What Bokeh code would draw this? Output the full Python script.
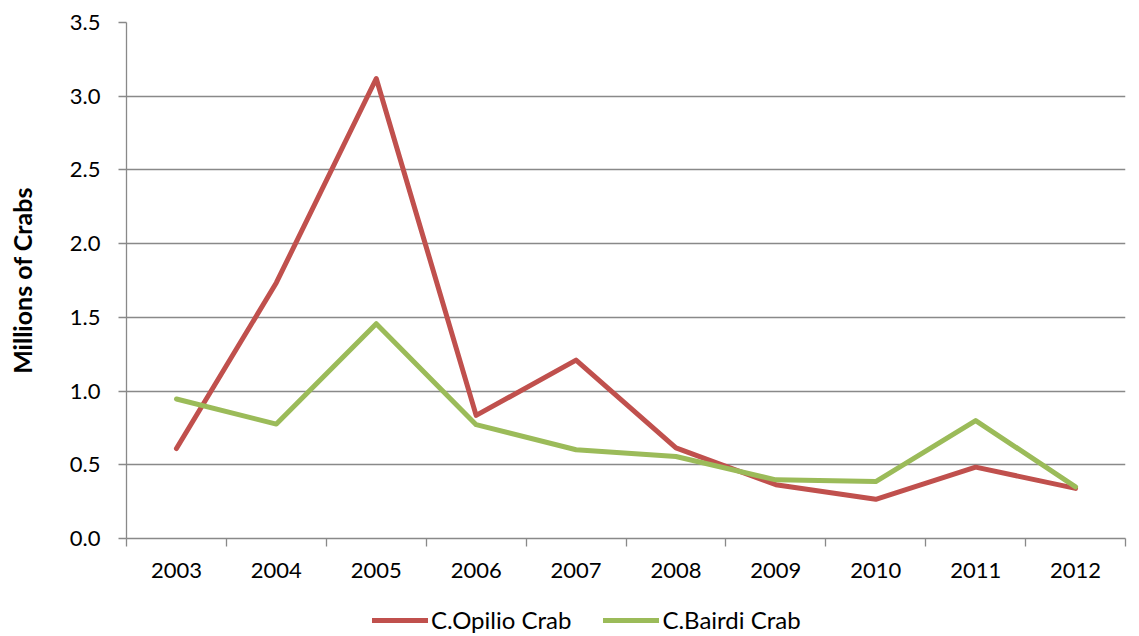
from bokeh.plotting import figure
from bokeh.layouts import column
from bokeh.models import FixedTicker, Legend, LegendItem, Range1d
from bokeh.embed import file_html
from bokeh.resources import INLINE

years = ["2003", "2004", "2005", "2006", "2007", "2008", "2009", "2010", "2011", "2012"]
opilio = [0.61, 1.735, 3.12, 0.835, 1.21, 0.615, 0.365, 0.266, 0.484, 0.34]
bairdi = [0.946, 0.776, 1.457, 0.772, 0.602, 0.556, 0.398, 0.386, 0.80, 0.35]
y_ticks = [0.0, 0.5, 1.0, 1.5, 2.0, 2.5, 3.0, 3.5]
series_names = ["C.Opilio Crab", "C.Bairdi Crab"]

FONT = "Lato"
GRID = "#898989"
RED = "#C0504D"
GREEN = "#9BBB59"

xs = [i + 0.5 for i in range(len(years))]

p = figure(frame_width=999, frame_height=516, output_backend="svg", toolbar_location=None,
           x_range=Range1d(0, len(years)), y_range=Range1d(0, 3.5),
           min_border_left=126, min_border_right=14, min_border_top=22, min_border_bottom=58)
p.outline_line_color = None
p.background_fill_color = "white"

r1 = p.line(xs, opilio, line_color=RED, line_width=5, line_join="round", line_cap="round")
r2 = p.line(xs, bairdi, line_color=GREEN, line_width=5, line_join="round", line_cap="round")

# x axis
p.xaxis.ticker = FixedTicker(ticks=xs, minor_ticks=list(range(len(years) + 1)))
p.xaxis.major_label_overrides = {x: y for x, y in zip(xs, years)}
p.xaxis.major_tick_line_color = None
p.xaxis.major_tick_out = 0
p.xaxis.major_tick_in = 0
p.xaxis.minor_tick_out = 8
p.xaxis.minor_tick_in = 0
p.xaxis.minor_tick_line_color = GRID
p.xaxis.minor_tick_line_width = 1.3
p.xaxis.axis_line_color = GRID
p.xaxis.axis_line_width = 1.3
p.xaxis.major_label_text_font = FONT
p.xaxis.major_label_text_font_size = "22px"
p.xaxis.major_label_text_color = "black"
p.xaxis.major_label_standoff = 16
p.xgrid.grid_line_color = None

# y axis
p.yaxis.ticker = FixedTicker(ticks=y_ticks)
p.yaxis.major_label_overrides = {t: f"{t:.1f}" for t in y_ticks}
p.yaxis.major_tick_out = 8
p.yaxis.major_tick_in = 0
p.yaxis.minor_tick_line_color = None
p.yaxis.major_tick_line_color = GRID
p.yaxis.major_tick_line_width = 1.3
p.yaxis.axis_line_color = GRID
p.yaxis.axis_line_width = 1.3
p.yaxis.major_label_text_font = FONT
p.yaxis.major_label_text_font_size = "22px"
p.yaxis.major_label_text_color = "black"
p.yaxis.major_label_standoff = 18
p.yaxis.axis_label = "Millions of Crabs"
p.yaxis.axis_label_text_font = FONT
p.yaxis.axis_label_text_font_size = "25px"
p.yaxis.axis_label_text_font_style = "bold"
p.yaxis.axis_label_text_color = "black"
p.yaxis.axis_label_standoff = 30
p.ygrid.grid_line_color = GRID
p.ygrid.grid_line_width = 1.3

# legend strip below the chart (series drawn off-view so only the legend shows)
lg = figure(width=1139, height=40, output_backend="svg", toolbar_location=None,
            x_axis_type=None, y_axis_type=None, min_border=0,
            x_range=Range1d(-100, -99), y_range=Range1d(-100, -99))
lg.outline_line_color = None
lg.grid.grid_line_color = None
l1 = lg.line(xs, opilio, line_color=RED, line_width=5, line_cap="round")
l2 = lg.line(xs, bairdi, line_color=GREEN, line_width=5, line_cap="round")
legend = Legend(items=[LegendItem(label=series_names[0], renderers=[l1]),
                       LegendItem(label=series_names[1], renderers=[l2])],
                orientation="horizontal", location=(246, 2),
                label_text_font=FONT, label_text_font_size="24px", label_text_color="black",
                glyph_width=56, glyph_height=20, label_height=20, label_standoff=3, spacing=32,
                border_line_color=None, background_fill_alpha=0,
                margin=0, padding=0)
lg.add_layout(legend, "center")

layout = column(p, lg, spacing=0)
open("out.html", "w").write(file_html(layout, INLINE))
